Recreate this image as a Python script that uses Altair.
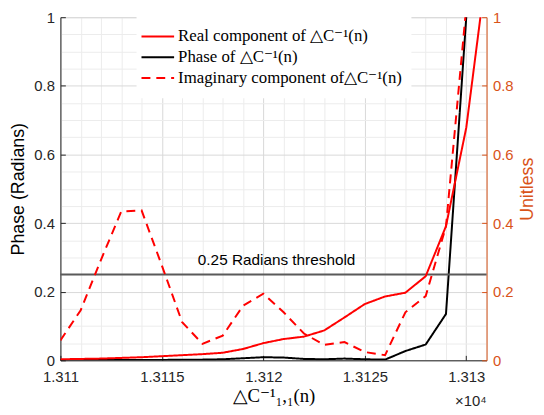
import altair as alt
import pandas as pd

# ---- data ----
n = list(range(13110, 13132))
real = [0.003, 0.004, 0.005, 0.007, 0.009, 0.012, 0.015, 0.018, 0.022, 0.033, 0.050,
        0.062, 0.069, 0.087, 0.125, 0.164, 0.186, 0.197, 0.245, 0.391, 0.678, 1.14]
imag = [0.058, 0.146, 0.293, 0.434, 0.437, 0.276, 0.111, 0.048, 0.072, 0.159, 0.194,
        0.140, 0.078, 0.045, 0.053, 0.024, 0.015, 0.140, 0.187, 0.390, 1.03, 1.70]
phase = [0.001, 0.001, 0.001, 0.001, 0.001, 0.001, 0.002, 0.002, 0.003, 0.006, 0.009,
         0.008, 0.004, 0.003, 0.005, 0.003, 0.002, 0.027, 0.046, 0.135, 1.00, 3.00]

series_names = ["Real component of △C⁻¹(n)", "Phase of △C⁻¹(n)", "Imaginary component of△C⁻¹(n)"]
series_colors = ["#ff0000", "#000000", "#ff0000"]
series_dash = [[1, 0], [1, 0], [9, 6]]

threshold = [0.25]
threshold_label = ["0.25 Radians threshold"]

x_grid = list(range(13110, 13132))
y_grid = [round(i * 0.05, 2) for i in range(21)]
y_ticks = [0, 0.2, 0.4, 0.6, 0.8, 1]

ORANGE = "#D95319"
AXC = "#262626"

rows = []
for i, v in enumerate(n):
    rows.append({"n": v, "series": series_names[0], "v": real[i]})
    rows.append({"n": v, "series": series_names[1], "v": phase[i]})
    rows.append({"n": v, "series": series_names[2], "v": imag[i]})
df = pd.DataFrame(rows)
thr = pd.DataFrame({"y": threshold, "label": threshold_label})

xscale = alt.Scale(domain=[13110, 13131], nice=False, zero=False)
x_axis = alt.Axis(
    values=x_grid,
    labelExpr="datum.value % 5 == 0 ? toString(datum.value/10000) : ''",
    title="△C⁻¹₁,₁(n)",
    titleFont="Liberation Serif", titleFontSize=19, titleFontWeight="normal",
    titleColor="black", titlePadding=3,
    labelFont="Liberation Sans", labelFontSize=15, labelColor=AXC,
    labelPadding=14, labelOverlap=False, labelFlush=False,
    grid=True,
    gridColor={"condition": {"test": "datum.value % 5 == 0", "value": "#d9d9d9"}, "value": "#ececec"},
    tickOpacity={"condition": {"test": "datum.value % 5 == 0", "value": 1}, "value": 0},
    tickSize={"expr": "-5"}, tickColor=AXC, domainColor=AXC,
)
X = alt.X("n:Q", scale=xscale, axis=x_axis)

major_test = "abs(datum.value*5 - round(datum.value*5)) < 0.001"
left_axis = alt.Axis(
    values=y_grid,
    labelExpr=f"{major_test} ? format(datum.value, '~g') : ''",
    title="Phase (Radians)", titleFont="Liberation Sans", titleFontSize=18,
    titleFontWeight="normal", titleColor="black", titlePadding=6,
    labelFont="Liberation Sans", labelFontSize=15, labelColor=AXC,
    labelPadding=11, labelOverlap=False, labelFlush=False,
    grid=True,
    gridColor={"condition": {"test": major_test, "value": "#d9d9d9"}, "value": "#ececec"},
    tickOpacity={"condition": {"test": major_test, "value": 1}, "value": 0},
    tickSize={"expr": "-5"}, tickColor=AXC, domainColor=AXC,
)
yscale = alt.Scale(domain=[0, 1], nice=False)
Y_left = alt.Y("v:Q", scale=yscale, axis=left_axis)

right_axis = alt.Axis(
    orient="right", values=y_ticks, format="~g",
    title="Unitless", titleFont="Liberation Sans", titleFontSize=18,
    titleFontWeight="normal", titleColor=ORANGE, titleAngle=270, titlePadding=24,
    labelFont="Liberation Sans", labelFontSize=15, labelColor=ORANGE,
    labelPadding=11, labelOverlap=False, labelFlush=False,
    grid=False, tickSize={"expr": "-5"}, tickColor=ORANGE, domainColor=ORANGE,
)

legend = alt.Legend(
    orient="none", legendX=77, legendY=-2, title=None,
    symbolType="M-2,0H2", symbolSize=272, symbolStrokeWidth=2,
    labelFont="Liberation Serif", labelFontSize=17, labelColor="black",
    labelLimit=400, fillColor="white", padding=12, rowPadding=3, labelOffset=11,
)
COLOR = alt.Color("series:N", scale=alt.Scale(domain=series_names, range=series_colors), legend=legend)
DASH = alt.StrokeDash("series:N", scale=alt.Scale(domain=series_names, range=series_dash), legend=legend)

phase_line = alt.Chart(df).transform_filter(
    alt.datum.series == series_names[1]
).mark_line(strokeWidth=2, clip=True).encode(x=X, y=Y_left, color=COLOR, strokeDash=DASH, order="n:Q")

thr_rule = alt.Chart(thr).mark_rule(color="#5a5a5a", strokeWidth=2).encode(
    y=alt.Y("y:Q", scale=yscale, axis=left_axis)
)
thr_text = alt.Chart(thr).mark_text(
    align="left", baseline="bottom", dy=-7, font="Liberation Sans", fontSize=15.5, color="black"
).encode(x=alt.value(139), y=alt.Y("y:Q", scale=yscale, axis=left_axis), text="label:N")

exp_text = alt.Chart(thr).mark_text(
    align="right", baseline="middle", font="Liberation Sans", fontSize=15, color=AXC
).encode(x=alt.value(431), y=alt.value(388), text=alt.value("×10⁴"))

left = alt.layer(phase_line, thr_rule, thr_text)

red_lines = alt.Chart(df).transform_filter(
    alt.datum.series != series_names[1]
).mark_line(strokeWidth=2, clip=True).encode(
    x=X, y=alt.Y("v:Q", scale=yscale, axis=right_axis), color=COLOR, strokeDash=DASH, order="n:Q"
)

chart = alt.layer(left, red_lines).resolve_scale(y="independent")
chart = alt.layer(chart, exp_text).properties(
    width=431, height=347,
    autosize=alt.AutoSizeParams(type="none"),
    padding={"left": 53, "top": 7, "right": 50, "bottom": 52},
).configure_view(stroke=None).configure(background="white")

chart.save("out.html", embed_options={"renderer": "svg", "actions": False})
